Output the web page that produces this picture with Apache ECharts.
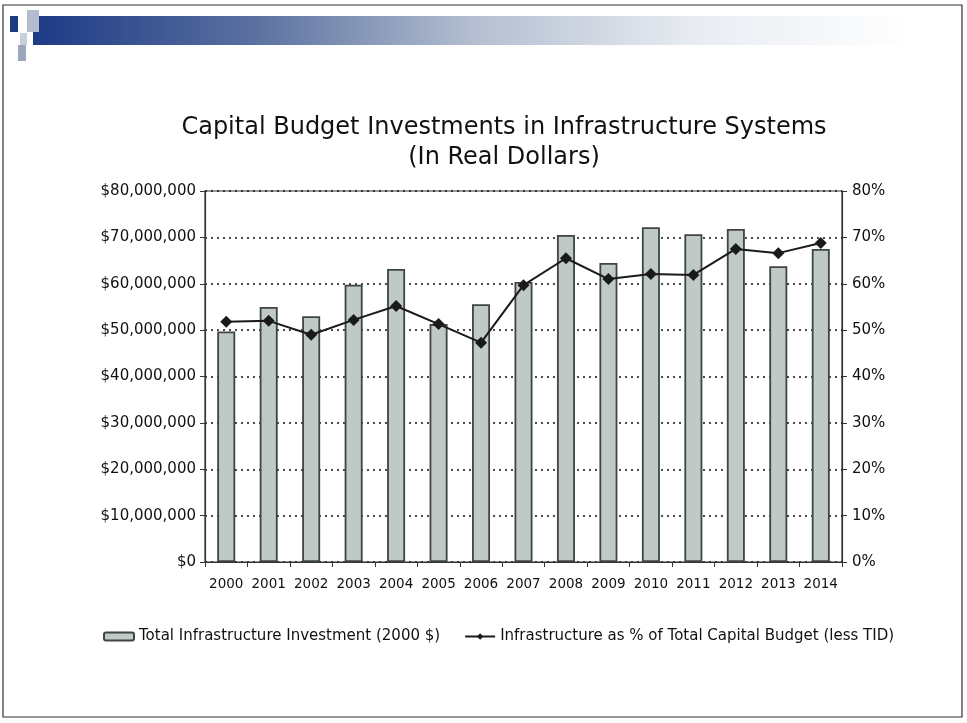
<!DOCTYPE html>
<html>
<head>
<meta charset="utf-8">
<script src="https://cdn.jsdelivr.net/npm/echarts@6/dist/echarts.min.js"></script>
<style>
html,body{margin:0;padding:0;background:#fff;}
#c{width:967px;height:723px;}
</style>
</head>
<body>
<div id="c"></div>
<script>
const categories = ['2000','2001','2002','2003','2004','2005','2006','2007','2008','2009','2010','2011','2012','2013','2014'];
const investment = [49700000,55000000,53000000,59800000,63200000,51300000,55600000,60400000,70500000,64500000,72200000,70700000,71800000,63800000,67500000];
const pctCapital = [51.8,52.0,49.0,52.2,55.2,51.3,47.3,59.7,65.5,61.0,62.1,61.9,67.5,66.6,68.8];
const leftTicks = {min:0, max:80000000, interval:10000000};
const rightTicks = {min:0, max:80, interval:10};
const seriesNames = ['Total Infrastructure Investment (2000 $)','Infrastructure as % of Total Capital Budget (less TID)'];
const titleLines = ['Capital Budget Investments in Infrastructure Systems','(In Real Dollars)'];

const font = '"DejaVu Sans", "Liberation Sans", Arial, sans-serif';
const chart = echarts.init(document.getElementById('c'));
chart.setOption({
  animation:false,
  textStyle:{fontFamily:font},
  graphic:[
    {type:'rect', shape:{x:3,y:5,width:959,height:712}, style:{fill:'none', stroke:'#333', lineWidth:1.2}, silent:true},
    {type:'rect', shape:{x:33,y:16,width:880,height:29}, style:{fill:new echarts.graphic.LinearGradient(0,0,1,0,[{offset:0,color:'#1d3a86'},{offset:0.25,color:'#5a70a0'},{offset:0.5,color:'#b3bed0'},{offset:0.75,color:'#e8ecf2'},{offset:1,color:'#ffffff'}])}, silent:true},
    {type:'rect', shape:{x:10,y:16,width:8,height:16}, style:{fill:'#1d3a86'}, silent:true},
    {type:'rect', shape:{x:27,y:10,width:12,height:22}, style:{fill:'#b4bdd0'}, silent:true},
    {type:'rect', shape:{x:20,y:33,width:7,height:12}, style:{fill:'#c9cfdb'}, silent:true},
    {type:'rect', shape:{x:18,y:45,width:8,height:16}, style:{fill:'#9ca7be'}, silent:true},
    {type:'text', style:{text:titleLines[0], x:504, y:128, textAlign:'center', textVerticalAlign:'middle', font:'24px '+font, fill:'#111'}, silent:true},
    {type:'text', style:{text:titleLines[1], x:504, y:158, textAlign:'center', textVerticalAlign:'middle', font:'24px '+font, fill:'#111'}, silent:true}
  ],
  legend:{
    left:98, top:624, itemGap:24, itemWidth:30, itemHeight:8,
    textStyle:{fontSize:15, color:'#111', fontFamily:font},
    data:[seriesNames[0], seriesNames[1]]
  },
  grid:{left:205, right:125, top:191, bottom:161, show:true, borderColor:'#333', borderWidth:1.2},
  xAxis:{
    type:'category', data:categories, boundaryGap:true,
    axisLine:{lineStyle:{color:'#333', width:1.2}},
    axisTick:{show:true, length:5, lineStyle:{color:'#333'}},
    axisLabel:{fontSize:13.5, color:'#111', margin:15, interval:0}
  },
  yAxis:[
    {type:'value', min:leftTicks.min, max:leftTicks.max, interval:leftTicks.interval, position:'left',
     axisLine:{show:true, lineStyle:{color:'#333', width:1.2}},
     axisTick:{show:true, length:5, lineStyle:{color:'#333'}},
     axisLabel:{fontSize:15, color:'#111', margin:9, formatter:v=>'$'+v.toLocaleString('en-US')},
     splitLine:{show:true, lineStyle:{color:'#111', type:[2,4], width:1.6}}},
    {type:'value', min:rightTicks.min, max:rightTicks.max, interval:rightTicks.interval, position:'right',
     axisLine:{show:true, lineStyle:{color:'#333', width:1.2}},
     axisTick:{show:true, length:5, lineStyle:{color:'#333'}},
     axisLabel:{fontSize:15, color:'#111', margin:10, formatter:v=>v+'%'},
     splitLine:{show:false}}
  ],
  series:[
    {name:seriesNames[0], type:'bar', data:investment, barWidth:18, yAxisIndex:0,
     itemStyle:{color:'#bfc9c5', borderColor:'#3f4543', borderWidth:1.8}},
    {name:seriesNames[1], type:'line', data:pctCapital, yAxisIndex:1,
     symbol:'diamond', symbolSize:12, lineStyle:{color:'#1a1a1a', width:2},
     itemStyle:{color:'#1a1a1a'}}
  ]
});
</script>
</body>
</html>
